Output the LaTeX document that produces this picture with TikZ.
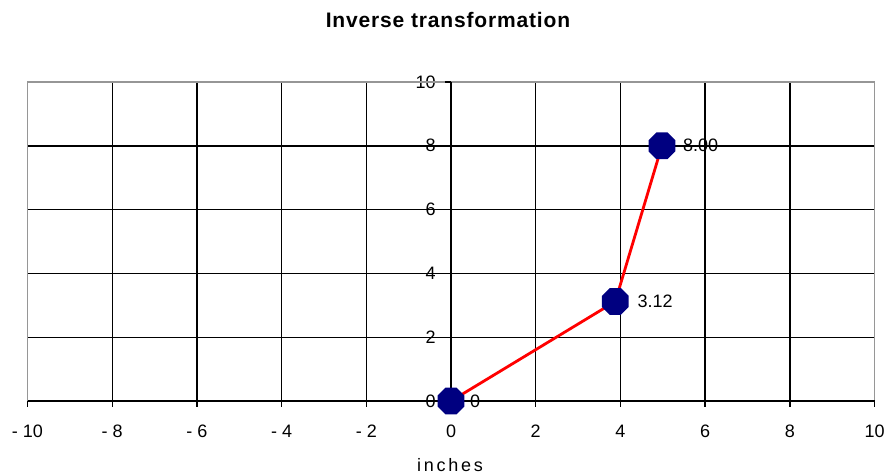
\documentclass[tikz,border=0pt]{standalone}
\usepackage{fontspec}
\setmainfont{Liberation Sans}
\newfontfamily\spacedfont[LetterSpace=15]{Liberation Sans}
\newfontfamily\titlefont[LetterSpace=4]{Liberation Sans}
\usetikzlibrary{shapes.geometric}
\definecolor{navy}{RGB}{0,0,128}
\definecolor{bordergray}{RGB}{150,150,150}
\tikzset{
  gridline/.style={black,line width=1.4pt},
  borderline/.style={bordergray,line width=1.4pt},
  ticklabel/.style={font=\fontsize{18}{18}\selectfont,inner sep=0pt},
  marker/.style={regular polygon,regular polygon sides=8,fill=navy,draw=none,minimum size=29pt,inner sep=0pt},
  datalabel/.style={font=\fontsize{18}{18}\selectfont,inner sep=0pt,anchor=west},
  series/.style={red,line width=2.8pt}
}
\begin{document}
\begin{tikzpicture}
\useasboundingbox (0pt,0pt) rectangle (886pt,475pt);
\node[font=\titlefont\bfseries\fontsize{21}{21}\selectfont] (title) at (448pt,455pt) {Inverse transformation};
\node[font=\spacedfont\fontsize{18}{18}\selectfont] (xlabel) at (450pt,10pt) {inches};
\begin{scope}[x=42.35pt,y=31.9pt,shift={(451pt,74pt)}]
  % y tick labels
  \foreach \v in {0,2,4,6,8,10}
    \node[ticklabel,anchor=east] (yl\v) at (-0.36,\v) {\v};
  % x tick labels
  \foreach \v/\t in {-10/- 10,-8/- 8,-6/- 6,-4/- 4,-2/- 2,0/0,2/2,4/4,6/6,8/8,10/10}
    \node[ticklabel] (xl\v) at (\v,-0.95) {\t};
  % grid
  \foreach \v in {2,4,6,8}
    \draw[gridline] (-10,\v) -- (10,\v);
  \foreach \v in {-8,-6,-4,-2,2,4,6,8}
    \draw[gridline] (\v,0) -- (\v,10);
  \draw[borderline] (-10,0) -- (-10,10) -- (10,10) -- (10,0);
  % axes
  \draw[gridline] (-10,0) -- (10,0);
  \draw[gridline] (0,0) -- (0,10);
  \foreach \v in {-10,-8,-6,-4,-2,0,2,4,6,8,10}
    \draw[gridline] (\v,0) -- (\v,-0.18);
  \foreach \v in {0,2,4,6,8,10}
    \draw[gridline] (0,\v) -- (-0.13,\v);
  % data
  \coordinate (c0) at (0,0);
  \coordinate (c1) at (3.88,3.12);
  \coordinate (c2) at (4.98,8);
  \draw[series] (c0) -- (c1) -- (c2);
  \node[marker] (m0) at (c0) {};
  \node[marker] (m1) at (c1) {};
  \node[marker] (m2) at (c2) {};
  \node[datalabel] (d0) at ([xshift=19pt]c0) {0};
  \node[datalabel] (d1) at ([xshift=22pt]c1) {3.12};
  \node[datalabel] (d2) at ([xshift=21pt]c2) {8.00};
\end{scope}
\end{tikzpicture}
\end{document}
